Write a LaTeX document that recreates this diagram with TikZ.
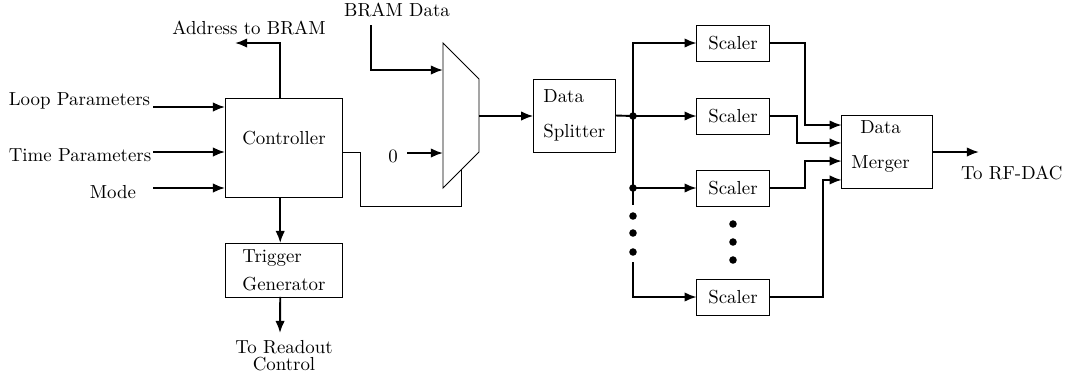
\documentclass[tikz,border=0pt]{standalone}
\usepackage{tikz}
\usetikzlibrary{arrows.meta}

\tikzset{
  blk/.style={draw, line width=0.5pt, inner sep=0pt, outer sep=0pt},
  sig/.style={line width=1pt, -{Latex[length=6.4pt,width=5pt]}},
  bus/.style={line width=1pt},
  wire/.style={line width=0.5pt},
}

\begin{document}
\begin{tikzpicture}[x=0.53pt, y=-0.53pt]
    % Canvas in pixel units of the original drawing
    \useasboundingbox (0,0) rectangle (1067,381);

    % Controller and trigger generator
    \node[blk, minimum width=62.5pt, minimum height=52.5pt,
      label={[yshift=5pt]center:Controller}] (ctrl) at (284,147.5) {};
    \node[blk, minimum width=62.5pt, minimum height=28.6pt, align=left]
      (trig) at (284,270) {Trigger\\[2.8pt]Generator};

    % Inputs of the controller
    \node (loop) at (79.5,101) {Loop Parameters};
    \node (time) at (80,155) {Time Parameters};
    \node (mode) at (113,192) {Mode};
    \coordinate (loopIn) at (153,107);
    \coordinate (timeIn) at (153,152);
    \coordinate (modeIn) at (153,188);
    \draw[sig] (loopIn) -- (loopIn -| ctrl.west);
    \draw[sig] (timeIn) -- (timeIn -| ctrl.west);
    \draw[sig] (modeIn) -- (modeIn -| ctrl.west);

    % Address output and trigger path
    \node (addr) at (249,28) {Address to BRAM};
    \coordinate (addrOut) at (235,43);
    \draw[sig] ([xshift=-2pt]ctrl.north) |- (addrOut);
    \draw[sig] ([xshift=-2pt]ctrl.south) -- ([xshift=-2pt]trig.north);
    \coordinate (readout) at (280,333);
    \draw[sig] ([xshift=-2pt]trig.south) -- (readout);
    \node[align=center, font=\fontsize{10pt}{9pt}\selectfont] (ctrlOut) at (284,356)
      {To Readout\\Control};

    % Multiplexer
    \draw[wire] (443,43) -- (479,79) -- (479,152) -- (443,188) -- cycle;
    \coordinate (muxA) at (443,70);
    \coordinate (muxB) at (443,153);
    \coordinate (muxOut) at (479,116);
    \coordinate (sel) at (461,170);
    \node (bram) at (397,10) {BRAM Data};
    \coordinate (bramIn) at (371,25);
    \draw[sig] (bramIn) |- (muxA);
    \node (zero) at (393,156) {0};
    \coordinate (zeroIn) at (407,153);
    \draw[sig] (zeroIn) -- (muxB);
    % select line from controller
    \draw[wire] ([yshift=-2.4pt]ctrl.east) -- ++(18,0) -- ++(0,54) -| (sel);

    % Data splitter
    \node[blk, minimum width=43.5pt, minimum height=38.7pt, align=left]
      (split) at (574.3,115.5) {Data\\[6.5pt]Splitter};
    \draw[sig] (muxOut) -- (muxOut -| split.west);

    % Scalers
    \foreach \i/\y in {1/43, 2/116, 3/188, 4/297} {
      \node[blk, minimum width=38.5pt, minimum height=19.1pt] (sc\i) at (733,\y) {Scaler};
    }

    % Distribution bus
    \coordinate (j1) at (633,116);
    \coordinate (j2) at (633,188);
    \coordinate (j4) at (633,262);
    \draw[bus] (split.east) -- (j1);
    \draw[sig] (j1) |- (sc1.west);
    \draw[sig] (j1) -- (sc2.west);
    \draw[bus] (j1) -- (j2);
    \draw[sig] (j2) -- (sc3.west);
    \draw[bus] (j2) -- ++(0,17);
    \draw[sig] (j4) |- (sc4.west);
    \fill (j1) circle (2pt);
    \fill (j2) circle (2pt);
    \foreach \y in {216, 233, 252} {
      \fill (633,\y) circle (2pt);
    }
    \foreach \y in {224, 242, 260} {
      \fill (733,\y) circle (2pt);
    }

    % Data merger
    \node[blk, minimum width=48pt, minimum height=38.5pt,
      label={[align=center, xshift=-3.4pt, yshift=2.8pt]center:Data\\[6.5pt]Merger}]
      (merge) at (887,152) {};
    \coordinate (m1) at ([yshift=14.3pt]merge.west);
    \coordinate (m2) at ([yshift=4.8pt]merge.west);
    \coordinate (m3) at ([yshift=-4.8pt]merge.west);
    \coordinate (m4) at ([yshift=-14.8pt]merge.west);
    \draw[sig] (sc1.east) -- ++(36,0) |- (m1);
    \draw[sig] (sc2.east) -- ++(27.5,0) |- (m2);
    \draw[sig] (sc3.east) -- ++(36,0) |- (m3);
    \draw[sig] (sc4.east) -- ++(54,0) |- (m4);

    % Output
    \coordinate (dac) at (979,152);
    \draw[sig] (merge.east) -- (dac);
    \node (rfdac) at (1011.7,173) {To RF-DAC};

  \end{tikzpicture}
\end{document}
